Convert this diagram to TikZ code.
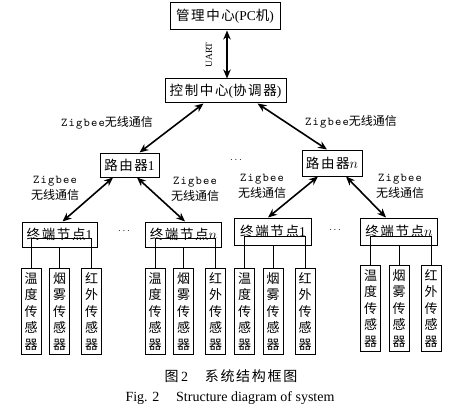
\documentclass[tikz,border=0pt]{standalone}
\usepackage{fontspec}
\setmainfont{Liberation Serif}
\newfontfamily\cjk[LetterSpace=12]{Noto Sans CJK SC}
\newfontfamily\cjkn{Noto Sans CJK SC}
\newfontfamily\zmono{lmmono10-regular.otf}[LetterSpace=10]
\usetikzlibrary{arrows.meta}

\tikzset{
  box/.style={draw, line width=1pt, inner sep=2pt, font=\fontsize{13.5}{15}\selectfont},
  sensor/.style={draw, line width=1pt, minimum width=20pt, minimum height=86pt, inner sep=0pt,
    align=center, font=\cjk\fontsize{13}{16.5}\selectfont},
  link/.style={{Stealth[length=9pt,width=7.5pt]}-{Stealth[length=9pt,width=7.5pt]}, line width=1.6pt},
  tree/.style={line width=0.8pt},
  lbl/.style={font=\fontsize{12}{16}\selectfont, align=center, inner sep=0pt},
}

\begin{document}
\begin{tikzpicture}[x=1pt,y=1pt,yscale=-1]
    \useasboundingbox (0,0) rectangle (452,417);

    % upper levels
    \node[box, minimum width=110pt, minimum height=27pt] (pc) at (225,16.5) {{\cjk 管理中心}(PC{\cjk 机})};
    \node[box, minimum width=121pt, minimum height=24pt] (ctrl) at (225.5,91) {{\cjk 控制中心}({\cjk 协调器})};
    \node[box, minimum width=59pt, minimum height=24pt] (r1) at (129.5,165) {{\cjk 路由器}1};
    \node[box, minimum width=60pt, minimum height=26pt] (rn) at (332,163) {{\cjk 路由器}$n$};

    % end nodes
    \node[box, minimum width=75pt, minimum height=25pt] (e11) at (59.5,234.5) {{\cjk 终端节点}1};
    \node[box, minimum width=76pt, minimum height=25pt] (e1n) at (183.5,234.5) {{\cjk 终端节点}$n$};
    \node[box, minimum width=77pt, minimum height=27pt] (e21) at (273,231.5) {{\cjk 终端节点}1};
    \node[box, minimum width=77pt, minimum height=27pt] (e2n) at (399,231.5) {{\cjk 终端节点}$n$};

    \node (dots1) at (124,231) {$\cdots$};
    \node (dots2) at (236,160) {$\cdots$};
    \node (dots3) at (335,230) {$\cdots$};

    % links
    \draw[link] (pc.south -| 227,0) -- (ctrl.north -| 227,0);
    \node[rotate=90, font=\fontsize{9.5}{11}\selectfont, inner sep=0pt] (uart) at (209,55) {UART};

    \draw[link] ([xshift=-22pt]ctrl.south) -- ([xshift=10pt]r1.north);
    \draw[link] ([xshift=32pt]ctrl.south) -- ([xshift=-5pt]rn.north);
    \draw[link] ([xshift=-16.5pt]r1.south) -- ([xshift=3pt]e11.north);
    \draw[link] ([xshift=7.5pt]r1.south) -- ([xshift=1.5pt]e1n.north);
    \draw[link] ([xshift=-14pt]rn.south) -- ([xshift=-5pt]e21.north);
    \draw[link] ([xshift=14pt]rn.south) -- ([xshift=-13pt]e2n.north);

    \node[lbl] (z0) at (107,123) {{\zmono Zigbee}{\cjkn 无线通信}};
    \node[lbl] (z1) at (351,122) {{\zmono Zigbee}{\cjkn 无线通信}};
    \node[lbl] (z2) at (55,188) {{\zmono Zigbee}\\{\cjkn 无线通信}};
    \node[lbl] (z3) at (195,189) {{\zmono Zigbee}\\{\cjkn 无线通信}};
    \node[lbl] (z4) at (262,186) {{\zmono Zigbee}\\{\cjkn 无线通信}};
    \node[lbl] (z5) at (400,186) {{\zmono Zigbee}\\{\cjkn 无线通信}};

    % sensors
    \coordinate (rowa) at (0,268);
    \coordinate (rowb) at (0,265);
    \foreach \e/\r in {e11/rowa, e1n/rowa, e21/rowa, e2n/rowb}{
        \path (\e.south |- \r) coordinate (\e-top);
        \node[sensor, anchor=north] (\e-1) at ([xshift=-28.5pt]\e-top) {温\\度\\传\\感\\器};
        \node[sensor, anchor=north] (\e-2) at (\e-top) {烟\\雾\\传\\感\\器};
        \node[sensor, anchor=north] (\e-3) at ([xshift=32pt]\e-top) {红\\外\\传\\感\\器};
        \draw[tree] (\e.south) -- (\e-2.north);
        \draw[tree] (\e-1.north) |- ([yshift=-9pt]\e.south) -| (\e-3.north);
    }

    % caption
    \node[font=\fontsize{14}{16}\selectfont] (cap) at (231,376) {{\cjk 图}\,2\hspace{1.2em}{\cjk 系统结构框图}};
    \node[font=\fontsize{14}{16}\selectfont] (capen) at (230,398) {Fig. 2\hspace{1.2em}Structure diagram of system};
\end{tikzpicture}
\end{document}
